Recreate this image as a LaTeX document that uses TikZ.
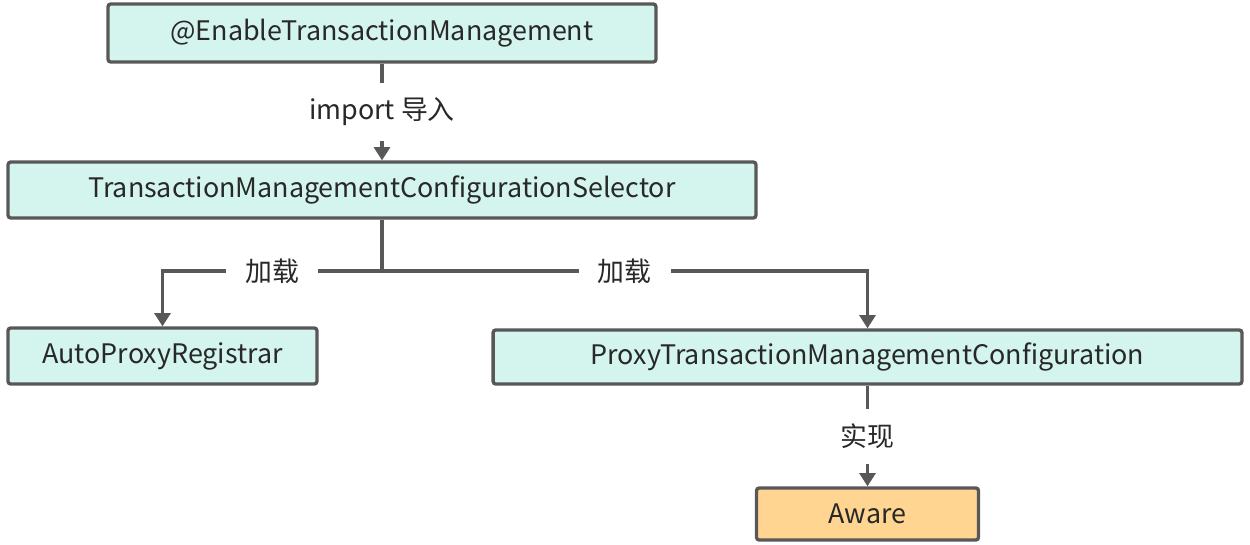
\documentclass[tikz,border=0pt]{standalone}
\usepackage{fontspec}
\setmainfont{Noto Sans CJK SC}
\usetikzlibrary{arrows.meta}
\definecolor{mint}{RGB}{212,244,238}
\definecolor{peach}{RGB}{255,213,145}
\definecolor{edgegray}{RGB}{88,88,88}
\definecolor{txt}{RGB}{40,40,40}

\begin{document}
\begin{tikzpicture}[x=0.02cm, y=-0.02cm,
   box/.style={draw=edgegray, line width=1.9pt, rounded corners=1.5pt, fill=mint,
               text=txt, font=\fontsize{15.3}{18}\selectfont, inner sep=0pt},
   arr/.style={draw=edgegray, line width=1.9pt, -{Triangle[width=9pt,length=7.5pt]}},
   lbl/.style={fill=white, text=txt, font=\fontsize{15.3}{18}\selectfont,
               inner xsep=0.38cm, inner ysep=0.3cm}]
   \useasboundingbox (0,0) rectangle (1250,544);
   \node[box, minimum width=10.96cm, minimum height=1.16cm] (enable)     at (382,33)    {@EnableTransactionManagement};
   \node[box, minimum width=14.96cm, minimum height=1.12cm] (selector)   at (382,190)   {TransactionManagementConfigurationSelector};
   \node[box, minimum width=6.18cm,  minimum height=1.12cm] (autoproxy)  at (162.5,356) {AutoProxyRegistrar};
   \node[box, minimum width=14.98cm, minimum height=1.08cm] (proxyconf)  at (867.5,357) {ProxyTransactionManagementConfiguration};
   \node[box, minimum width=4.44cm,  minimum height=1.04cm, fill=peach] (aware) at (867.5,514) {Aware};
   \coordinate (fork) at (382,271);
   \draw[arr] (enable) -- node[lbl]{import 导入} (selector);
   \draw[edgegray, line width=1.9pt] (selector) -- (fork);
   \draw[arr] (fork) -| node[lbl, pos=0.25]{加载} (autoproxy);
   \draw[arr] (fork) -| node[lbl, pos=0.25]{加载} (proxyconf);
   \draw[arr] (proxyconf) -- node[lbl]{实现} (aware);
\end{tikzpicture}
\end{document}
